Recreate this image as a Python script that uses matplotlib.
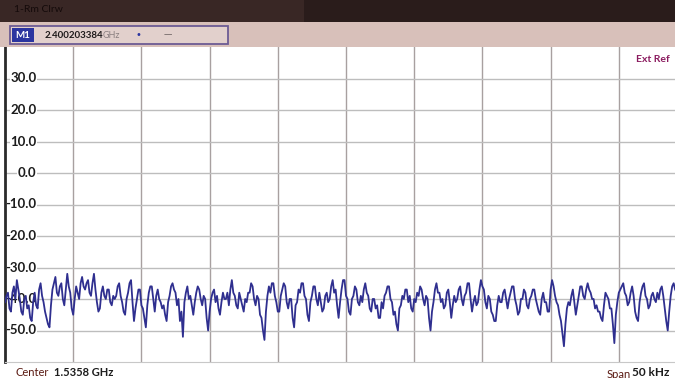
import numpy as np
import matplotlib
matplotlib.use("Agg")
import matplotlib.pyplot as plt
from matplotlib.patches import Rectangle

# ---- data -------------------------------------------------------------
center_label = "1.5358 GHz"
span_label = "50 kHz"
span_khz = 50.0
marker_freq = "2.400203384"
y_ticks = [30.0, 20.0, 10.0, 0.0, -10.0, -20.0, -30.0, -40.0, -50.0]

seg1 = [-41, -39, -38, -43, -44, -38, -36, -40, -34, -37, -40, -44, -45, -40, -39, -43, -42, -46, -47,
        -41, -38, -42, -43, -37, -35, -39, -41, -44, -46, -48, -49, -42, -37, -35, -33, -38, -39, -36,
        -35, -40, -42, -37, -32, -36, -38, -43, -45, -40, -36, -38, -40, -35, -33, -36, -37, -35, -34,
        -38, -39, -35, -32, -37, -41, -44, -43, -38, -36, -39, -40, -37, -37, -41, -42, -39, -40]
seg2 = [-39, -36, -35, -39, -41, -44, -45, -40, -38, -35, -34, -41, -47, -43, -40, -37, -37, -42, -43,
        -46, -49, -42, -38, -36, -36, -40, -44, -39, -37, -40, -41, -43, -42, -45, -47, -41, -39, -36,
        -35, -37, -38, -42, -40, -47, -44, -52, -41, -38, -36, -40, -39, -42, -45, -41, -38, -36, -37,
        -40, -42, -39, -40, -46, -50, -44, -40, -38, -37, -41, -39, -43, -45, -41, -38, -40]
seg3 = [-40, -38, -42, -37, -34, -38, -39, -42, -43, -38, -40, -42, -44, -40, -41, -38, -38, -35, -36,
        -40, -42, -39, -40, -45, -46, -50, -53, -44, -39, -36, -38, -35, -35, -39, -41, -44, -44, -39,
        -37, -35, -36, -41, -43, -40, -40, -46, -49, -42, -41, -37, -38, -35, -35, -39, -40, -45, -47,
        -41, -39, -36, -36, -40, -42, -38, -41, -44, -43, -39, -38, -41, -40, -36, -34, -38, -37, -42,
        -46, -41]
seg4 = [-37, -34, -34, -39, -40, -44, -45, -40, -39, -36, -37, -41, -42, -39, -41, -37, -35, -38, -39,
        -43, -44, -40, -40, -43, -42, -46, -46, -41, -43, -39, -38, -36, -36, -40, -41, -45, -44, -48,
        -50, -43, -42, -39, -40, -37, -37, -41, -39, -43, -44, -40, -41, -38, -39, -36, -37, -40, -42,
        -39, -40, -46, -50, -44, -41, -37, -35, -38, -38, -41, -40, -43, -42, -38, -37, -41, -46, -42,
        -39, -41]
seg5 = [-40, -37, -36, -40, -42, -39, -38, -35, -35, -40, -44, -41, -39, -42, -41, -37, -34, -36, -37,
        -41, -43, -39, -40, -44, -45, -47, -47, -42, -39, -41, -41, -38, -37, -40, -43, -40, -38, -36,
        -36, -40, -42, -45, -44, -40, -40, -37, -38, -42, -43, -40, -39, -37, -37, -40, -42, -44, -45,
        -40, -38, -41, -41, -44, -44, -37, -34, -36, -39, -41, -42, -45, -47, -51, -55, -48, -43, -41]
seg6 = [-42, -39, -37, -41, -45, -42, -39, -36, -36, -39, -40, -37, -35, -37, -38, -40, -40, -43, -42,
        -44, -44, -46, -47, -42, -38, -39, -40, -43, -43, -48, -54, -45, -41, -38, -37, -36, -35, -38,
        -39, -42, -41, -38, -36, -39, -44, -46, -47, -41, -38, -36, -35, -39, -40, -43, -42, -39, -38,
        -40, -41, -38, -40, -37, -36, -39, -43, -47, -50, -44, -39, -36, -35, -37, -38, -42, -41, -44,
        -44, -40, -37, -42]
trace_db = seg1 + seg2 + seg3 + seg4 + seg5 + seg6

# ---- figure -----------------------------------------------------------
W, H = 675, 378
fig = plt.figure(figsize=(W / 100, H / 100), dpi=100)
fig.patch.set_facecolor("white")

def fx(px):
    return px / W

def fy(py):
    return 1 - py / H

# header bars
fig.patches.append(Rectangle((0, fy(22)), 1, 22 / H, transform=fig.transFigure,
                             facecolor="#2a1c1b", edgecolor="none", zorder=0))
fig.patches.append(Rectangle((0, fy(22)), 0.45, 22 / H, transform=fig.transFigure,
                             facecolor="#3d2b28", edgecolor="none", zorder=0, alpha=0.8))
fig.patches.append(Rectangle((0, fy(47)), 1, 25 / H, transform=fig.transFigure,
                             facecolor="#d8c0ba", edgecolor="none", zorder=0))
fig.text(fx(14), fy(10), "1-Rm Clrw", fontsize=7.5, color="#140a0a", va="center", ha="left",
         family="Lato")
# marker box
fig.patches.append(Rectangle((fx(10), fy(44)), fx(218), 18 / H, transform=fig.transFigure,
                             facecolor="#e2d0cc", edgecolor="#6c5b94", lw=1.3, zorder=1))
fig.patches.append(Rectangle((fx(12), fy(42)), fx(22), 14 / H, transform=fig.transFigure,
                             facecolor="#2b35a0", edgecolor="none", zorder=2))
fig.text(fx(23), fy(35), "M1", fontsize=7, color="white", weight="bold", ha="center", va="center",
         family="Lato", zorder=3)
fig.text(fx(45), fy(35), marker_freq, fontsize=7, color="#1e1a1a", weight="bold", ha="left",
         va="center", family="Lato", zorder=3)
fig.text(fx(103), fy(35), "GHz", fontsize=6.5, color="#8a7f80", ha="left", va="center",
         family="Lato", zorder=3)
fig.text(fx(138), fy(35), "•", fontsize=7, color="#2b35a0", ha="center", va="center", zorder=3)
fig.text(fx(168), fy(35), "—", fontsize=6, color="#6a6060", ha="center", va="center", zorder=3)

# ---- plot area ---------------------------------------------------------
left_px, right_px, top_px, bot_px = 5, 687, 47, 362
ax = fig.add_axes([fx(left_px), fy(bot_px), fx(right_px - left_px), (bot_px - top_px) / H])
ax.set_facecolor("white")
ax.set_xlim(-span_khz / 2, span_khz / 2)
ax.set_ylim(-60, 40)

for v in np.linspace(-span_khz / 2, span_khz / 2, 11)[1:-1]:
    ax.axvline(v, color="#a8a0a0", lw=1.0, zorder=1)
for v in np.arange(-50, 40, 10):
    ax.axhline(v, color="#bdbdbd", lw=1.0, zorder=1)

ax.set_xticks([])
ax.set_yticks([])
for s in ["top", "right"]:
    ax.spines[s].set_visible(False)
ax.spines["bottom"].set_color("#c8c8c8")
ax.spines["left"].set_color("#2a2a2a")
ax.spines["left"].set_linewidth(2)

for t in y_ticks:
    ax.text(0.046, t, f"{t:.1f}", transform=ax.get_yaxis_transform(), ha="right", va="center",
            fontsize=9.5, weight="bold", color="#1c1c1c", family="Lato", zorder=2,
            bbox=dict(facecolor="white", edgecolor="none", pad=0.3))

x = np.linspace(-span_khz / 2, span_khz / 2, len(trace_db))
ax.plot(x, trace_db, color="#2f2f8f", lw=1.3, zorder=3)

fig.text(fx(670), fy(60), "Ext Ref", fontsize=7.5, color="#8a1a5e", weight="bold", ha="right",
         va="center", family="Lato")

fig.text(fx(15), fy(373), "Center", fontsize=8, color="#5a1a12", ha="left", va="center",
         family="Lato")
fig.text(fx(54), fy(373), center_label, fontsize=8, color="#1c1c1c", weight="bold", ha="left",
         va="center", family="Lato")
fig.text(fx(607), fy(374), "Span", fontsize=8, color="#5a1a12", ha="left", va="center",
         family="Lato")
fig.text(fx(632), fy(373), span_label, fontsize=8.5, color="#1c1c1c", weight="bold", ha="left",
         va="center", family="Lato")

fig.savefig("out.png", dpi=100)
